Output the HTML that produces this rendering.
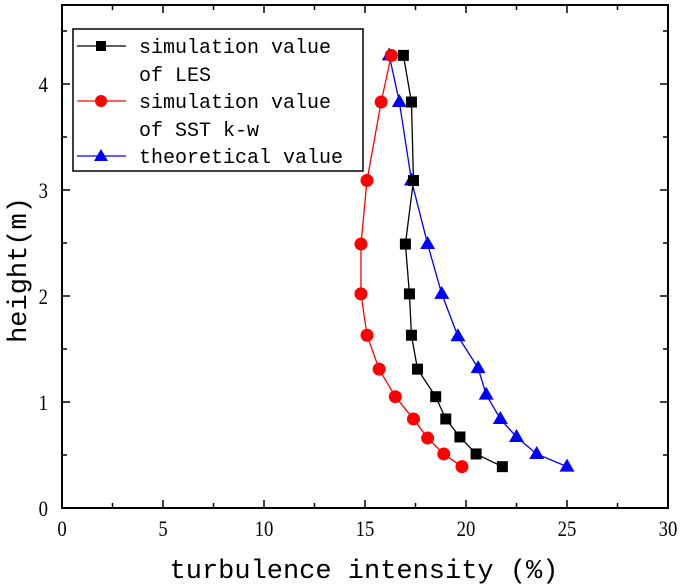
<!DOCTYPE html>
<html><head><meta charset="utf-8"><style>
html,body{margin:0;padding:0;background:#fff;}
svg{display:block;font-family:"Liberation Mono","DejaVu Sans Mono",monospace;}
</style></head><body>
<svg id="chart" width="685" height="584" viewBox="0 0 685 584" xmlns="http://www.w3.org/2000/svg">
<g id="axes"></g><g id="series"></g>
<g>
<rect x="73" y="29" width="290" height="142" fill="#fff" stroke="#000" stroke-width="1.5"/>
<g>
<line x1="77" y1="46" x2="126" y2="46" stroke="#000" stroke-width="1.3"/><rect x="96" y="41" width="10" height="10" fill="#000"/>
<text x="139" y="53" font-size="20">simulation value</text><text x="139" y="81" font-size="20">of LES</text></g>
<g>
<line x1="77" y1="101" x2="126" y2="101" stroke="#f00" stroke-width="1.3"/><circle cx="101" cy="101" r="6" fill="#f00"/>
<text x="139" y="108" font-size="20">simulation value</text><text x="139" y="136" font-size="20">of SST k-w</text></g>
<g>
<line x1="77" y1="156" x2="126" y2="156" stroke="#00f" stroke-width="1.3"/><polygon points="101,149 108,161 94,161" fill="#00f"/>
<text x="139" y="163" font-size="20">theoretical value</text></g>
</g>
<text x="364" y="578" font-size="27" text-anchor="middle">turbulence intensity (%)</text>
<text transform="translate(26,270) rotate(-90)" font-size="27" text-anchor="middle">height(m)</text>
</svg>
<script>
const lesX=[21.8,20.5,19.7,19.0,18.5,17.6,17.3,17.2,17.0,17.4,17.3,16.9];
const lesY=[0.39,0.51,0.67,0.84,1.05,1.31,1.63,2.02,2.49,3.09,3.83,4.27];
const sstX=[19.8,18.9,18.1,17.4,16.5,15.7,15.1,14.8,14.8,15.1,15.8,16.3];
const sstY=[0.39,0.51,0.66,0.84,1.05,1.31,1.63,2.02,2.49,3.09,3.83,4.27];
const thX=[25.0,23.5,22.5,21.7,21.0,20.6,19.6,18.8,18.1,17.3,16.7,16.2];
const thY=[0.39,0.51,0.67,0.84,1.07,1.32,1.62,2.02,2.49,3.09,3.83,4.27];
const xTicks=[0,5,10,15,20,25,30];
const yTicks=[0,1,2,3,4];
const NS="http://www.w3.org/2000/svg";
const L=62,R=668,B=508,T=5;
const sx=v=>L+v*(R-L)/30;
const sy=v=>B-v*106;
function mk(tag,attrs,parent){const e=document.createElementNS(NS,tag);for(const k in attrs)e.setAttribute(k,attrs[k]);parent.appendChild(e);return e;}
const ax=document.getElementById('axes');
const frame=mk('rect',{x:L,y:T,width:R-L,height:B-T,fill:'none',stroke:'#000','stroke-width':2},ax);


for(let v=0;v<=30;v+=2.5){const major=v%5===0;const len=major?8:5;
mk('line',{x1:sx(v),y1:B,x2:sx(v),y2:B-len,stroke:'#000','stroke-width':1.5},ax);
mk('line',{x1:sx(v),y1:T,x2:sx(v),y2:T+len,stroke:'#000','stroke-width':1.5},ax);}
for(let v=0;v<=4.5;v+=0.5){const major=v%1===0;const len=major?8:5;
mk('line',{x1:L,y1:sy(v),x2:L+len,y2:sy(v),stroke:'#000','stroke-width':1.5},ax);
mk('line',{x1:R,y1:sy(v),x2:R-len,y2:sy(v),stroke:'#000','stroke-width':1.5},ax);}
xTicks.forEach(v=>{const t=mk('text',{transform:`translate(${sx(v)},536) scale(0.85,1)`,'font-size':22,'text-anchor':'middle','font-family':'Liberation Serif,serif'},ax);t.textContent=v;

});
yTicks.forEach(v=>{const t=mk('text',{transform:`translate(48,${sy(v)+8}) scale(0.85,1)`,'font-size':22,'text-anchor':'end','font-family':'Liberation Serif,serif'},ax);t.textContent=v;

});
const sg=document.getElementById('series');
function series(xs,ys,color,shape,name){
const g=mk('g',{},sg);


mk('polyline',{points:xs.map((x,i)=>sx(x)+','+sy(ys[i])).join(' '),fill:'none',stroke:color,'stroke-width':1.3},g);
xs.forEach((x,i)=>{const cx=sx(x),cy=sy(ys[i]);let m;
if(shape==='sq')m=mk('rect',{x:cx-5.5,y:cy-5.5,width:11,height:11,fill:color},g);
else if(shape==='ci')m=mk('circle',{cx:cx,cy:cy,r:6.5,fill:color},g);
else m=mk('polygon',{points:`${cx},${cy-8} ${cx+7.5},${cy+5} ${cx-7.5},${cy+5}`,fill:color},g);

});}
series(thX,thY,'#00f','tri','theoretical-series');
series(sstX,sstY,'#f00','ci','sst-series');
series(lesX,lesY,'#000','sq','les-series');
</script>
</body></html>
